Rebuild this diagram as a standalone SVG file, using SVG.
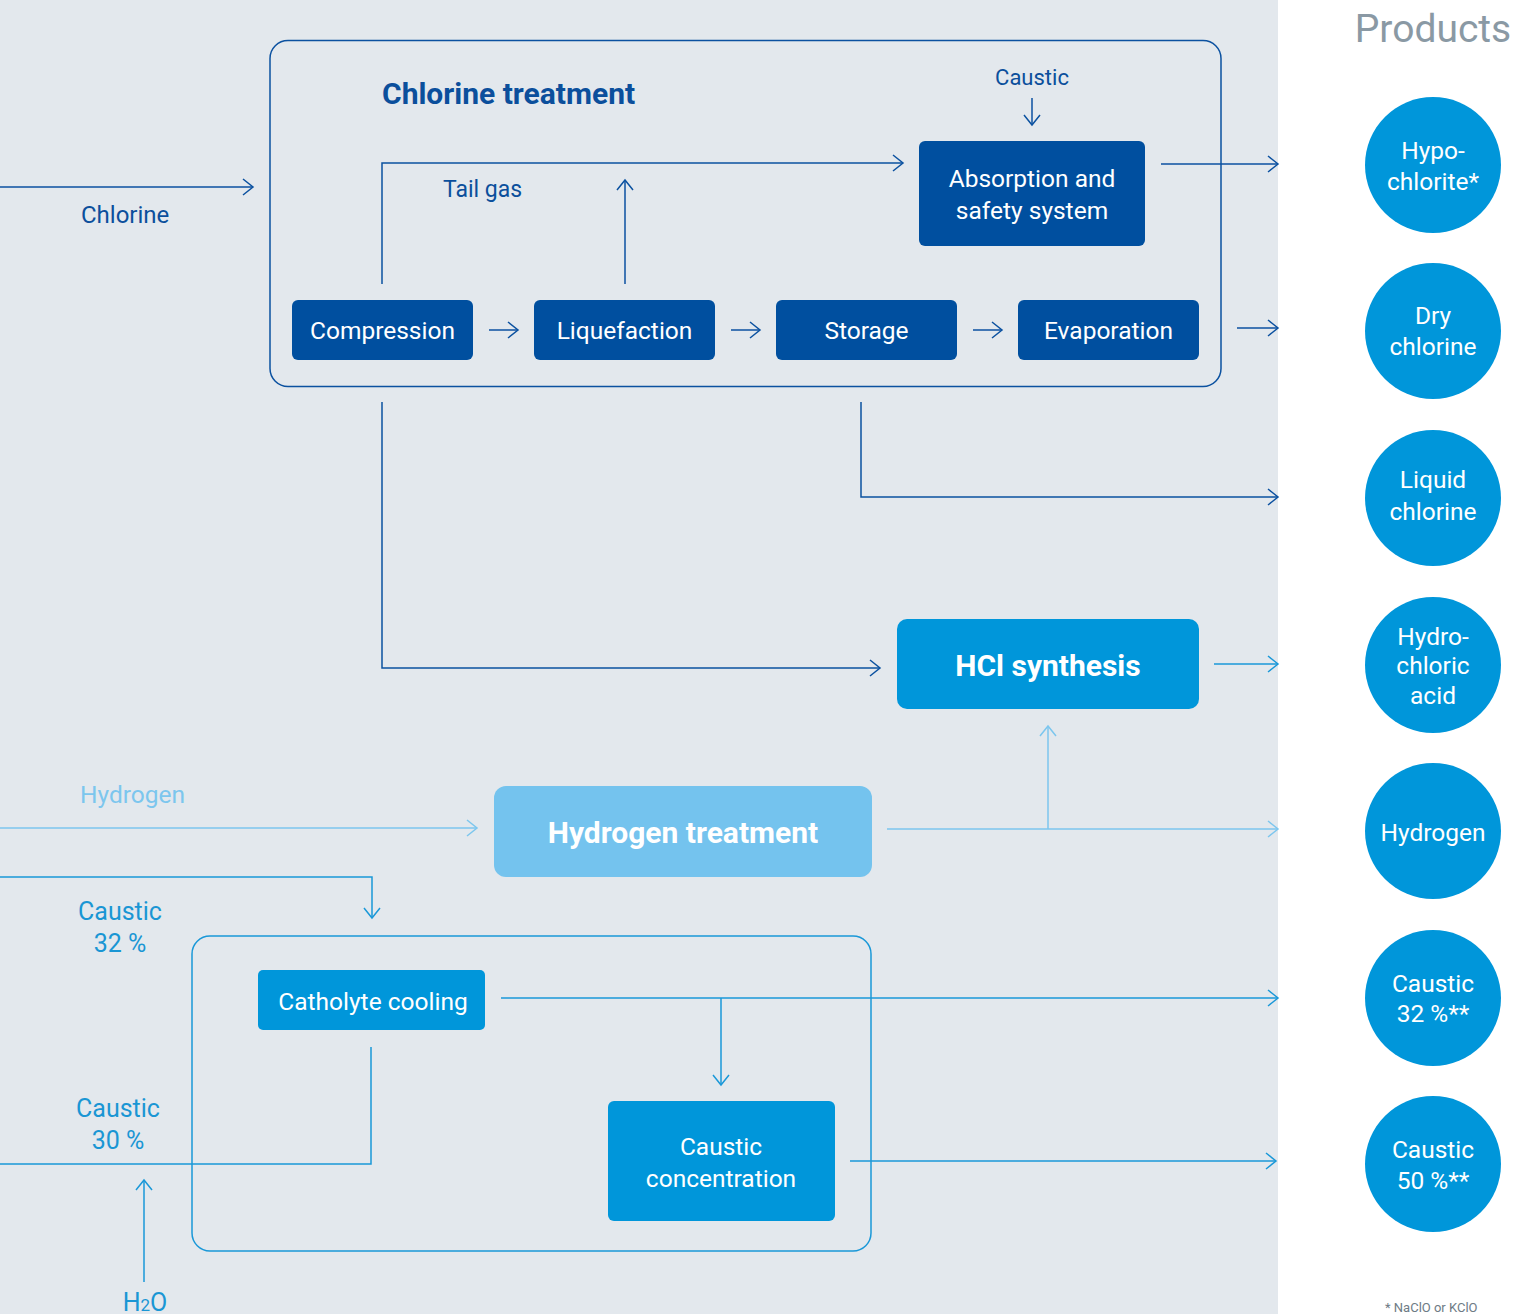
<svg xmlns="http://www.w3.org/2000/svg" width="1523" height="1314" viewBox="0 0 1523 1314">
<defs>
<style>
text{font-family:Roboto,"Liberation Sans",sans-serif;}
.bg{fill:#E3E8ED;}
.dk{stroke:#0B51A0;stroke-width:1.5;fill:none;}
.md{stroke:#1A98D8;stroke-width:1.5;fill:none;}
.lt{stroke:#7CC6EE;stroke-width:1.5;fill:none;}
.ndk{fill:#004F9F;}
.nmd{fill:#0096DA;}
.nlt{fill:#74C3EE;}
.wt{fill:#FFFFFF;font-size:24.5px;text-anchor:middle;}
.wb{fill:#FFFFFF;font-size:30px;font-weight:bold;text-anchor:middle;}
.ldk{fill:#0B4F9C;font-size:23px;}
.lmd{fill:#1A96D4;font-size:25px;text-anchor:middle;}
.llt{fill:#7CC6EE;font-size:24.5px;}
.prod{fill:#FFFFFF;font-size:24.5px;text-anchor:middle;}
</style>
<marker id="aDk" markerUnits="userSpaceOnUse" markerWidth="20" markerHeight="20" viewBox="-12 -10 14 20" refX="0" refY="0" orient="auto"><path d="M-10,-8 L0,0 L-10,8" fill="none" stroke="#0B51A0" stroke-width="1.5"/></marker>
<marker id="aMd" markerUnits="userSpaceOnUse" markerWidth="20" markerHeight="20" viewBox="-12 -10 14 20" refX="0" refY="0" orient="auto"><path d="M-10,-8 L0,0 L-10,8" fill="none" stroke="#1A98D8" stroke-width="1.5"/></marker>
<marker id="aLt" markerUnits="userSpaceOnUse" markerWidth="20" markerHeight="20" viewBox="-12 -10 14 20" refX="0" refY="0" orient="auto"><path d="M-10,-8 L0,0 L-10,8" fill="none" stroke="#7CC6EE" stroke-width="1.5"/></marker>
</defs>
<rect x="0" y="0" width="1523" height="1314" fill="#FFFFFF"/>
<rect class="bg" x="0" y="0" width="1278" height="1314"/>

<g id="chlorine-treatment-frame">
<rect class="dk" x="270" y="40.5" width="951" height="346" rx="18"/>
<text x="382" y="104" style="fill:#0B4F9C;font-size:30px;font-weight:bold;">Chlorine treatment</text>
</g>

<g id="connectors">
<path class="dk" d="M0,187 H253" marker-end="url(#aDk)"/>
<path class="dk" d="M382,284 V163 H903" marker-end="url(#aDk)"/>
<path class="dk" d="M625,284 V180" marker-end="url(#aDk)"/>
<path class="dk" d="M1032,98 V125" marker-end="url(#aDk)"/>
<path class="dk" d="M489,330 H518" marker-end="url(#aDk)"/>
<path class="dk" d="M731,330 H760" marker-end="url(#aDk)"/>
<path class="dk" d="M973,330 H1002" marker-end="url(#aDk)"/>
<path class="dk" d="M1161,164 H1278" marker-end="url(#aDk)"/>
<path class="dk" d="M1237,328 H1278" marker-end="url(#aDk)"/>
<path class="dk" d="M861,402 V497 H1278" marker-end="url(#aDk)"/>
<path class="dk" d="M382,402 V668 H880" marker-end="url(#aDk)"/>
<path class="md" d="M1214,664 H1278" marker-end="url(#aMd)"/>
<path class="lt" d="M0,828 H477" marker-end="url(#aLt)"/>
<path class="lt" d="M887,829 H1278" marker-end="url(#aLt)"/>
<path class="lt" d="M1048,829 V726" marker-end="url(#aLt)"/>
<path class="md" d="M0,877 H372 V918" marker-end="url(#aMd)"/>
<path class="md" d="M501,998 H1278" marker-end="url(#aMd)"/>
<path class="md" d="M721,998 V1085" marker-end="url(#aMd)"/>
<path class="md" d="M850,1161 H1276" marker-end="url(#aMd)"/>
<path class="md" d="M371,1047 V1164 H0"/>
<path class="md" d="M144,1282 V1180" marker-end="url(#aMd)"/>
</g>

<g id="caustic-frame">
<rect class="md" x="192" y="936" width="679" height="315" rx="18"/>
</g>

<g id="labels">
<text class="ldk" x="81" y="223" style="font-size:24px;">Chlorine</text>
<text class="ldk" x="443" y="197">Tail gas</text>
<text class="ldk" x="1032" y="85" text-anchor="middle" style="font-size:22px;">Caustic</text>
<text class="llt" x="80" y="803">Hydrogen</text>
<text class="lmd" x="120" y="920">Caustic</text>
<text class="lmd" x="120" y="952">32 %</text>
<text class="lmd" x="118" y="1117">Caustic</text>
<text class="lmd" x="118" y="1149">30 %</text>
<text class="lmd" x="145" y="1311">H<tspan font-size="17">2</tspan>O</text>
</g>

<g id="node-absorption">
<rect class="ndk" x="919" y="141" width="226" height="105" rx="6"/>
<text class="wt" x="1032" y="187">Absorption and</text>
<text class="wt" x="1032" y="219">safety system</text>
</g>
<g id="node-compression">
<rect class="ndk" x="292" y="300" width="181" height="60" rx="6"/>
<text class="wt" x="382.5" y="339">Compression</text>
</g>
<g id="node-liquefaction">
<rect class="ndk" x="534" y="300" width="181" height="60" rx="6"/>
<text class="wt" x="624.5" y="339">Liquefaction</text>
</g>
<g id="node-storage">
<rect class="ndk" x="776" y="300" width="181" height="60" rx="6"/>
<text class="wt" x="866.5" y="339">Storage</text>
</g>
<g id="node-evaporation">
<rect class="ndk" x="1018" y="300" width="181" height="60" rx="6"/>
<text class="wt" x="1108.5" y="339">Evaporation</text>
</g>
<g id="node-hcl">
<rect class="nmd" x="897" y="619" width="302" height="90" rx="10"/>
<text class="wb" x="1048" y="676">HCl synthesis</text>
</g>
<g id="node-hydrogen-treatment">
<rect class="nlt" x="494" y="786" width="378" height="91" rx="12"/>
<text class="wb" x="683" y="843">Hydrogen treatment</text>
</g>
<g id="node-catholyte">
<rect class="nmd" x="258" y="970" width="227" height="60" rx="5"/>
<text class="wt" x="373" y="1010">Catholyte cooling</text>
</g>
<g id="node-concentration">
<rect class="nmd" x="608" y="1101" width="227" height="120" rx="6"/>
<text class="wt" x="721" y="1155">Caustic</text>
<text class="wt" x="721" y="1187">concentration</text>
</g>

<g id="products-title">
<text x="1433" y="42" text-anchor="middle" style="fill:#8A99A4;font-size:39px;">Products</text>
</g>
<g id="prod-hypochlorite">
<circle class="nmd" cx="1433" cy="165" r="68"/>
<text class="prod" x="1433" y="159">Hypo-</text>
<text class="prod" x="1433" y="190">chlorite*</text>
</g>
<g id="prod-dry-chlorine">
<circle class="nmd" cx="1433" cy="331" r="68"/>
<text class="prod" x="1433" y="324">Dry</text>
<text class="prod" x="1433" y="355">chlorine</text>
</g>
<g id="prod-liquid-chlorine">
<circle class="nmd" cx="1433" cy="498" r="68"/>
<text class="prod" x="1433" y="488">Liquid</text>
<text class="prod" x="1433" y="520">chlorine</text>
</g>
<g id="prod-hydrochloric-acid">
<circle class="nmd" cx="1433" cy="665" r="68"/>
<text class="prod" x="1433" y="645">Hydro-</text>
<text class="prod" x="1433" y="674">chloric</text>
<text class="prod" x="1433" y="704">acid</text>
</g>
<g id="prod-hydrogen">
<circle class="nmd" cx="1433" cy="831" r="68"/>
<text class="prod" x="1433" y="841">Hydrogen</text>
</g>
<g id="prod-caustic32">
<circle class="nmd" cx="1433" cy="998" r="68"/>
<text class="prod" x="1433" y="992">Caustic</text>
<text class="prod" x="1433" y="1022">32 %**</text>
</g>
<g id="prod-caustic50">
<circle class="nmd" cx="1433" cy="1164" r="68"/>
<text class="prod" x="1433" y="1158">Caustic</text>
<text class="prod" x="1433" y="1189">50 %**</text>
</g>
<g id="footnote">
<text x="1385" y="1312" style="fill:#6E7B85;font-size:13px;">* NaClO or KClO</text>
</g>
</svg>
